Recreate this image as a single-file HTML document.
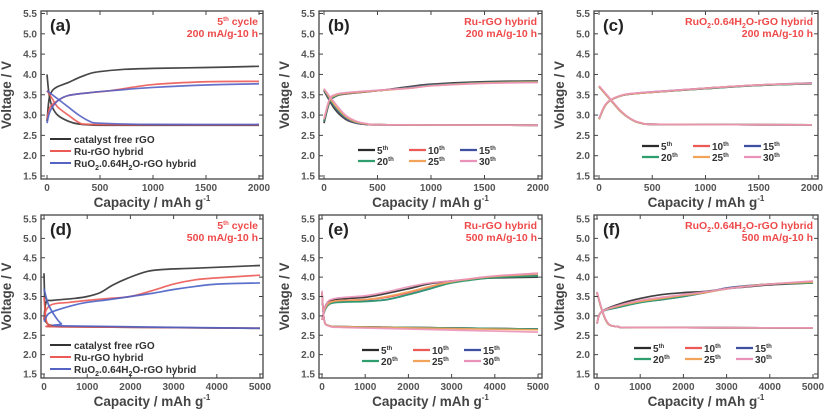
<!DOCTYPE html>
<html><head><meta charset="utf-8">
<style>
html,body{margin:0;padding:0;background:#fff;}
svg{display:block;}
text{font-family:"Liberation Sans",Arial,sans-serif;}
</style></head>
<body>
<svg id="fig" width="831" height="412" viewBox="0 0 831 412" xmlns="http://www.w3.org/2000/svg"></svg>
<script>
// ---------- data ----------
// Panel a (200 mA/g, 5th cycle, three electrodes)
const aCatChgX=[0,20,50,100,200,300,400,500,700,1000,1500,2000];
const aCatChgY=[2.85,3.4,3.6,3.7,3.8,3.92,4.02,4.07,4.12,4.15,4.17,4.2];
const aCatDisX=[0,20,50,100,200,300,500,1000,2000];
const aCatDisY=[4.0,3.5,3.2,3.0,2.85,2.78,2.75,2.75,2.75];
const aRuChgX=[0,30,100,200,400,600,1000,1500,2000];
const aRuChgY=[2.9,3.2,3.35,3.48,3.55,3.6,3.75,3.82,3.83];
const aRuDisX=[0,50,100,200,300,400,1000,2000];
const aRuDisY=[3.6,3.4,3.2,3.0,2.82,2.77,2.76,2.76];
const aOxChgX=[0,30,100,200,400,600,1000,1500,2000];
const aOxChgY=[2.8,3.1,3.35,3.48,3.55,3.6,3.68,3.74,3.77];
const aOxDisX=[0,100,200,300,400,500,1000,2000];
const aOxDisY=[3.6,3.4,3.2,3.0,2.85,2.8,2.77,2.77];
// Panel d (500 mA/g, 5th cycle)
const dCatChgX=[0,50,200,700,1000,1300,1600,2000,2400,2800,3500,5000];
const dCatChgY=[2.9,3.35,3.4,3.45,3.5,3.6,3.8,4.0,4.15,4.2,4.23,4.3];
const dCatDisX=[0,30,80,200,500,5000];
const dCatDisY=[4.1,3.0,2.8,2.75,2.72,2.68];
const dRuChgX=[0,50,200,600,1000,1500,2000,2500,3000,3500,4000,5000];
const dRuChgY=[2.9,3.15,3.3,3.35,3.4,3.45,3.5,3.65,3.82,3.93,3.98,4.05];
const dRuDisX=[0,50,150,500,5000];
const dRuDisY=[3.5,2.9,2.75,2.72,2.68];
const dOxChgX=[0,100,300,700,1000,1500,2000,2500,3000,3500,4000,5000];
const dOxChgY=[2.85,3.05,3.15,3.28,3.35,3.42,3.5,3.58,3.68,3.76,3.82,3.85];
const dOxDisX=[0,100,250,400,600,5000];
const dOxDisY=[3.7,3.3,3.0,2.8,2.74,2.68];
// cycle labels
const cycles=["5","10","15","20","25","30"];
// Panel b (Ru-rGO, 200 mA/g)
const bChgX=[0,50,100,200,500,800,1000,1500,2000];
const bChg5=[2.8,3.3,3.45,3.52,3.6,3.7,3.76,3.82,3.84];
const bChg10=[2.85,3.32,3.46,3.52,3.6,3.68,3.74,3.8,3.82];
const bChg15=[2.85,3.33,3.46,3.53,3.6,3.68,3.74,3.8,3.82];
const bChg20=[2.85,3.33,3.46,3.53,3.6,3.67,3.73,3.8,3.82];
const bChg25=[2.9,3.36,3.48,3.54,3.6,3.66,3.72,3.79,3.81];
const bChg30=[2.9,3.38,3.5,3.55,3.61,3.66,3.72,3.78,3.8];
const bDisX=[0,100,200,300,400,600,2000];
const bDis5=[3.6,3.15,2.9,2.8,2.77,2.76,2.75];
const bDis10=[3.62,3.2,2.93,2.81,2.77,2.76,2.75];
const bDis15=[3.62,3.2,2.93,2.81,2.77,2.76,2.75];
const bDis20=[3.63,3.22,2.95,2.82,2.78,2.76,2.75];
const bDis25=[3.64,3.25,2.97,2.83,2.78,2.76,2.75];
const bDis30=[3.65,3.3,3.0,2.85,2.79,2.76,2.75];
// Panel c (RuO2-rGO, 200 mA/g)
const cChgX=[0,50,100,200,300,500,1000,1500,2000];
const cChg5=[2.9,3.2,3.35,3.47,3.52,3.56,3.65,3.73,3.77];
const cChg10=[2.9,3.2,3.35,3.47,3.52,3.56,3.66,3.74,3.78];
const cChg15=[2.9,3.2,3.35,3.47,3.52,3.57,3.66,3.74,3.79];
const cChg20=[2.9,3.2,3.35,3.47,3.52,3.56,3.65,3.73,3.77];
const cChg25=[2.9,3.2,3.35,3.47,3.52,3.56,3.66,3.74,3.78];
const cChg30=[2.92,3.22,3.36,3.48,3.53,3.57,3.66,3.74,3.78];
const cDisX=[0,100,200,300,400,600,2000];
const cDis5=[3.7,3.4,3.1,2.9,2.8,2.77,2.76];
const cDis10=[3.7,3.4,3.1,2.9,2.8,2.77,2.76];
const cDis15=[3.7,3.4,3.1,2.9,2.8,2.77,2.76];
const cDis20=[3.7,3.4,3.1,2.9,2.8,2.77,2.76];
const cDis25=[3.7,3.4,3.1,2.9,2.8,2.77,2.76];
const cDis30=[3.72,3.42,3.12,2.91,2.81,2.77,2.76];
// Panel e (Ru-rGO, 500 mA/g)
const eChgX=[0,100,300,1000,1500,2000,2500,3000,3500,4000,5000];
const eChg5=[2.9,3.3,3.42,3.48,3.58,3.7,3.83,3.9,3.95,3.98,4.0];
const eChg10=[2.9,3.25,3.38,3.42,3.48,3.6,3.75,3.88,3.96,4.02,4.1];
const eChg15=[2.9,3.22,3.35,3.38,3.42,3.55,3.7,3.86,3.94,4.0,4.05];
const eChg20=[2.9,3.22,3.34,3.37,3.42,3.55,3.7,3.85,3.93,3.99,4.03];
const eChg25=[2.9,3.25,3.38,3.42,3.5,3.62,3.76,3.88,3.96,4.02,4.08];
const eChg30=[2.9,3.3,3.45,3.52,3.62,3.75,3.85,3.9,3.97,4.03,4.1];
const eDisX=[0,50,150,500,2000,5000];
const eDis5=[3.6,2.9,2.75,2.72,2.7,2.66];
const eDis10=[3.6,2.9,2.75,2.72,2.7,2.66];
const eDis15=[3.6,2.9,2.75,2.72,2.7,2.66];
const eDis20=[3.6,2.9,2.75,2.72,2.7,2.66];
const eDis25=[3.6,2.9,2.75,2.72,2.69,2.64];
const eDis30=[3.65,2.9,2.74,2.7,2.66,2.58];
// Panel f (RuO2-rGO, 500 mA/g)
const fChgX=[0,100,500,1000,1500,2000,2500,3000,3500,4000,5000];
const fChg5=[2.8,3.1,3.3,3.45,3.55,3.6,3.63,3.7,3.75,3.8,3.85];
const fChg10=[2.8,3.1,3.25,3.38,3.45,3.52,3.6,3.7,3.77,3.82,3.88];
const fChg15=[2.8,3.1,3.22,3.35,3.42,3.5,3.6,3.72,3.78,3.82,3.86];
const fChg20=[2.8,3.1,3.22,3.34,3.42,3.5,3.6,3.7,3.77,3.82,3.85];
const fChg25=[2.8,3.1,3.25,3.37,3.45,3.53,3.6,3.7,3.77,3.82,3.87];
const fChg30=[2.8,3.1,3.27,3.4,3.48,3.55,3.62,3.7,3.76,3.82,3.9];
const fDisX=[0,100,200,300,500,1000,5000];
const fDis5=[3.6,3.2,2.9,2.76,2.72,2.7,2.69];
const fDis10=[3.6,3.2,2.9,2.76,2.72,2.7,2.69];
const fDis15=[3.6,3.2,2.9,2.76,2.72,2.7,2.69];
const fDis20=[3.6,3.2,2.9,2.76,2.72,2.7,2.69];
const fDis25=[3.6,3.2,2.9,2.76,2.72,2.7,2.69];
const fDis30=[3.62,3.22,2.92,2.77,2.72,2.7,2.69];
// ticks
const yTicks=["1.5","2.0","2.5","3.0","3.5","4.0","4.5","5.0","5.5"];
const xTicks2000=["0","500","1000","1500","2000"];
const xTicks5000=["0","1000","2000","3000","4000","5000"];

// ---------- drawing ----------
const NS="http://www.w3.org/2000/svg";
const svg=document.getElementById('fig');
function mk(tag,attrs,parent){const e=document.createElementNS(NS,tag);for(const k in attrs)e.setAttribute(k,attrs[k]);(parent||svg).appendChild(e);return e;}
const CYC_COL=["#2b2b2b","#ec5a55","#3d4f9e","#2e9e6e","#f2a35a","#eb92b8"];
const RED="#ee4a4a";

function smoothPath(pts){
  let d="M"+pts[0][0].toFixed(2)+","+pts[0][1].toFixed(2);
  for(let i=0;i<pts.length-1;i++){
    const p0=pts[i-1]||pts[i],p1=pts[i],p2=pts[i+1],p3=pts[i+2]||p2;
    const c1=[p1[0]+(p2[0]-p0[0])/6,p1[1]+(p2[1]-p0[1])/6];
    const c2=[p2[0]-(p3[0]-p1[0])/6,p2[1]-(p3[1]-p1[1])/6];
    d+=" C"+c1[0].toFixed(2)+","+c1[1].toFixed(2)+" "+c2[0].toFixed(2)+","+c2[1].toFixed(2)+" "+p2[0].toFixed(2)+","+p2[1].toFixed(2);
  }
  return d;
}

function panel(p){
  const g=mk('g',{});
  
  
  const xs=v=>p.x0+v/p.xmax*(p.xm-p.x0);
  const ys=v=>p.y55+(5.5-v)/4*(p.y15-p.y55);
  p.series.forEach(s=>{
    const pts=s.x.map((v,i)=>[xs(v),ys(s.y[i])]);
    const path=mk('path',{d:smoothPath(pts),fill:'none',stroke:s.c,'stroke-width':1.7,'stroke-linejoin':'round',opacity:0.9},g);
    
    
  });
  const fr=mk('rect',{x:p.l,y:p.t,width:p.r-p.l,height:p.b-p.t,fill:'none',stroke:'#444','stroke-width':1.3},g);
  
  
  yTicks.forEach(t=>{
    const y=ys(parseFloat(t));
    mk('line',{x1:p.l,x2:p.l+4,y1:y,y2:y,stroke:'#444','stroke-width':1},g);
    mk('line',{x1:p.r,x2:p.r-4,y1:y,y2:y,stroke:'#444','stroke-width':1},g);
    const yl=mk('text',{x:p.l-4,y:y+3.5,'text-anchor':'end','font-size':10,fill:'#555','font-weight':'bold'},g);
    yl.textContent=t;
    
    
  });
  p.xt.forEach(t=>{
    const x=xs(parseFloat(t));
    mk('line',{x1:x,x2:x,y1:p.b,y2:p.b-4,stroke:'#444','stroke-width':1},g);
    mk('line',{x1:x,x2:x,y1:p.t,y2:p.t+4,stroke:'#444','stroke-width':1},g);
    const xl=mk('text',{x:x,y:p.b+12,'text-anchor':'middle','font-size':10,fill:'#555','font-weight':'bold'},g);
    xl.textContent=t;
    
    
  });
  const xt=mk('text',{x:(p.l+p.r)/2,y:p.b+28,'text-anchor':'middle','font-size':13.5,fill:'#444','font-weight':'bold'},g);
  xt.innerHTML='Capacity / mAh g<tspan dy="-6" font-size="8">-1</tspan>';
  
  
  const cy=(p.t+p.b)/2, tx0=p.l-30;
  const yt=mk('text',{x:tx0,y:cy,'text-anchor':'middle','font-size':13.5,fill:'#444','font-weight':'bold',transform:'rotate(-90 '+tx0+' '+cy+')'},g);
  yt.textContent='Voltage / V';
  
  
  const pl=mk('text',{x:p.l+9,y:p.t+20,'font-size':17,fill:'#222','font-weight':'bold'},g);
  pl.textContent='('+p.id+')';
  
  
  p.ann.forEach((a,i)=>{
    const at=mk('text',{x:p.r-5,y:p.t+14+i*12,'text-anchor':'end','font-size':10.5,fill:RED,'font-weight':'bold'},g);
    at.innerHTML=a;
    
    
  });
  if(p.legend==='mat'){
    const labs=['catalyst free rGO','Ru-rGO hybrid','RuO<tspan dy="3" font-size="7">2</tspan><tspan dy="-3">.0.64H</tspan><tspan dy="3" font-size="7">2</tspan><tspan dy="-3">O-rGO hybrid</tspan>'];
    const cols=['#333','#ec5a55','#5563c4'];
    labs.forEach((lb,i)=>{
      const y=p.ly+i*12;
      const le=mk('g',{},g);
      
      
      mk('line',{x1:p.l+9,x2:p.l+30,y1:y,y2:y,stroke:cols[i],'stroke-width':2},le);
      const tx=mk('text',{x:p.l+33,y:y+4,'font-size':10,fill:'#333','font-weight':'bold'},le);
      tx.innerHTML=lb;
    });
  } else {
    cycles.forEach((c,i)=>{
      const col=i%3,row=Math.floor(i/3);
      const x=p.lx+col*51,y=p.ly+row*11;
      const le=mk('g',{},g);
      
      
      mk('line',{x1:x,x2:x+17,y1:y,y2:y,stroke:CYC_COL[i],'stroke-width':2.2},le);
      const tx=mk('text',{x:x+19,y:y+4,'font-size':10,fill:'#333','font-weight':'bold'},le);
      tx.innerHTML=c+'<tspan dy="-4" font-size="6">th</tspan>';
    });
  }
}
function cycSeries(cx,chg,dx,dis){
  const s=[];
  for(let i=0;i<6;i++){
    s.push({x:cx,y:chg[i],c:CYC_COL[i],name:'charge-'+cycles[i]+'th'});
    s.push({x:dx,y:dis[i],c:CYC_COL[i],name:'discharge-'+cycles[i]+'th'});
  }
  return s;
}
const row1={t:11,b:179,y55:13.5,y15:176};
const row2={t:215,b:378,y55:219,y15:374};
panel(Object.assign({id:'a',l:41,r:263,x0:47,xm:259,xmax:2000,xt:xTicks2000,legend:'mat',ly:139,
  ann:['5<tspan dy="-4" font-size="6">th</tspan><tspan dy="4"> cycle</tspan>','200 mA/g-10 h'],
  series:[
   {x:aCatChgX,y:aCatChgY,c:'#333',name:'catalyst-free-charge'},
   {x:aCatDisX,y:aCatDisY,c:'#333',name:'catalyst-free-discharge'},
   {x:aRuChgX,y:aRuChgY,c:'#ec5a55',name:'ru-rgo-charge'},
   {x:aRuDisX,y:aRuDisY,c:'#ec5a55',name:'ru-rgo-discharge'},
   {x:aOxChgX,y:aOxChgY,c:'#5563c4',name:'ruo2-rgo-charge'},
   {x:aOxDisX,y:aOxDisY,c:'#5563c4',name:'ruo2-rgo-discharge'}]},row1));
panel(Object.assign({id:'b',l:319,r:542,x0:324,xm:538,xmax:2000,xt:xTicks2000,legend:'cyc',lx:358,ly:150,
  ann:['Ru-rGO hybrid','200 mA/g-10 h'],
  series:cycSeries(bChgX,[bChg5,bChg10,bChg15,bChg20,bChg25,bChg30],bDisX,[bDis5,bDis10,bDis15,bDis20,bDis25,bDis30])},row1));
panel(Object.assign({id:'c',l:594,r:818,x0:599,xm:812,xmax:2000,xt:xTicks2000,legend:'cyc',lx:642,ly:146,
  ann:['RuO<tspan dy="3" font-size="7">2</tspan><tspan dy="-3">.0.64H</tspan><tspan dy="3" font-size="7">2</tspan><tspan dy="-3">O-rGO hybrid</tspan>','200 mA/g-10 h'],
  series:cycSeries(cChgX,[cChg5,cChg10,cChg15,cChg20,cChg25,cChg30],cDisX,[cDis5,cDis10,cDis15,cDis20,cDis25,cDis30])},row1));
panel(Object.assign({id:'d',l:41,r:263,x0:44,xm:260,xmax:5000,xt:xTicks5000,legend:'mat',ly:345,
  ann:['5<tspan dy="-4" font-size="6">th</tspan><tspan dy="4"> cycle</tspan>','500 mA/g-10 h'],
  series:[
   {x:dCatChgX,y:dCatChgY,c:'#333',name:'catalyst-free-charge'},
   {x:dCatDisX,y:dCatDisY,c:'#333',name:'catalyst-free-discharge'},
   {x:dRuChgX,y:dRuChgY,c:'#ec5a55',name:'ru-rgo-charge'},
   {x:dRuDisX,y:dRuDisY,c:'#ec5a55',name:'ru-rgo-discharge'},
   {x:dOxChgX,y:dOxChgY,c:'#4a62c4',name:'ruo2-rgo-charge'},
   {x:dOxDisX,y:dOxDisY,c:'#4a62c4',name:'ruo2-rgo-discharge'}]},row2));
panel(Object.assign({id:'e',l:319,r:542,x0:322,xm:538,xmax:5000,xt:xTicks5000,legend:'cyc',lx:362,ly:350,
  ann:['Ru-rGO hybrid','500 mA/g-10 h'],
  series:cycSeries(eChgX,[eChg5,eChg10,eChg15,eChg20,eChg25,eChg30],eDisX,[eDis5,eDis10,eDis15,eDis20,eDis25,eDis30])},row2));
panel(Object.assign({id:'f',l:594,r:818,x0:597,xm:813,xmax:5000,xt:xTicks5000,legend:'cyc',lx:634,ly:348,
  ann:['RuO<tspan dy="3" font-size="7">2</tspan><tspan dy="-3">.0.64H</tspan><tspan dy="3" font-size="7">2</tspan><tspan dy="-3">O-rGO hybrid</tspan>','500 mA/g-10 h'],
  series:cycSeries(fChgX,[fChg5,fChg10,fChg15,fChg20,fChg25,fChg30],fDisX,[fDis5,fDis10,fDis15,fDis20,fDis25,fDis30])},row2));
</script>
</body></html>
